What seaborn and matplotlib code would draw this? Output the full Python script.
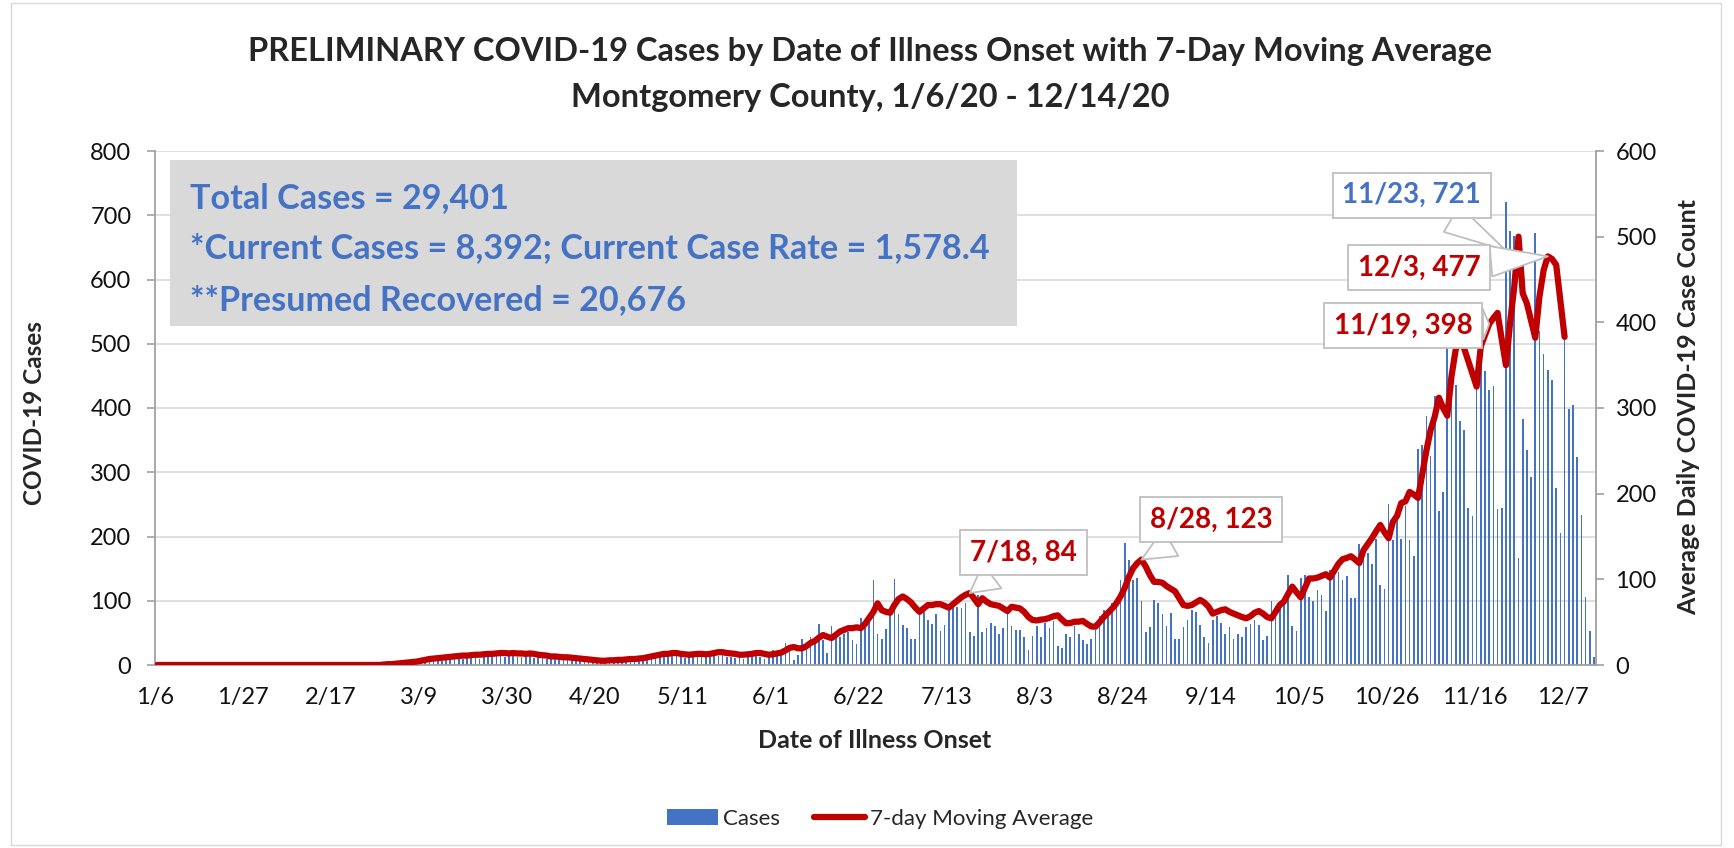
import pandas as pd
import seaborn as sns
import matplotlib.pyplot as plt
from matplotlib.patches import Rectangle, Patch
from matplotlib.lines import Line2D

# daily cases by date of illness onset, 1/6/20 - 12/14/20 (one row per week, Mon..Sun)
cases = [
    0, 0, 0, 0, 0, 0, 0,
    0, 0, 0, 0, 0, 0, 0,
    0, 0, 0, 0, 0, 0, 0,
    0, 0, 0, 0, 0, 0, 0,
    0, 0, 0, 0, 0, 0, 0,
    0, 0, 0, 0, 0, 0, 0,
    0, 0, 0, 0, 0, 0, 0,
    0, 0, 0, 0, 0, 0, 0,
    1, 2, 1, 3, 2, 4, 3,
    5, 6, 4, 8, 9, 7, 10,
    12, 19, 11, 9, 13, 14, 12,
    10, 16, 15, 13, 20, 14, 12,
    15, 16, 13, 12, 15, 14, 11,
    13, 12, 10, 9, 11, 10, 8,
    9, 10, 7, 8, 6, 7, 5,
    6, 4, 5, 6, 7, 5, 6,
    8, 7, 6, 9, 8, 10, 11,
    12, 14, 13, 15, 14, 16, 12,
    11, 13, 12, 14, 12, 13, 15,
    20, 14, 16, 13, 12, 11, 13,
    10, 14, 12, 15, 13, 9, 14,
    23, 18, 18, 35, 23, 8, 16,
    40, 34, 44, 39, 64, 39, 18,
    61, 52, 44, 49, 52, 39, 32,
    73, 62, 70, 132, 48, 41, 56,
    80, 134, 80, 63, 57, 41, 41,
    83, 83, 70, 64, 79, 53, 63,
    86, 90, 90, 88, 97, 52, 45,
    109, 52, 57, 65, 61, 49, 57,
    80, 60, 55, 55, 43, 23, 45,
    60, 43, 65, 57, 68, 30, 26,
    49, 43, 60, 49, 39, 32, 41,
    54, 76, 86, 79, 97, 90, 133,
    190, 163, 133, 135, 99, 51, 59,
    101, 96, 80, 61, 81, 40, 41,
    59, 70, 86, 83, 62, 44, 34,
    70, 76, 66, 48, 59, 41, 49,
    43, 59, 64, 70, 62, 39, 45,
    99, 92, 94, 97, 140, 60, 53,
    135, 140, 106, 100, 117, 109, 84,
    148, 138, 145, 132, 138, 105, 104,
    189, 182, 175, 157, 196, 124, 118,
    251, 195, 228, 196, 247, 194, 170,
    336, 343, 388, 326, 419, 240, 270,
    500, 478, 436, 380, 365, 244, 232,
    450, 485, 458, 428, 435, 243, 245,
    721, 675, 668, 166, 383, 335, 293,
    672, 520, 484, 459, 443, 276, 205,
    507, 399, 405, 324, 234, 106, 53,
    12,
]

# 7-day moving average (right axis), 1/6/20 - 12/7/20
moving_avg = [
    0, 0, 0, 0, 0, 0, 0,
    0, 0, 0, 0, 0, 0, 0,
    0, 0, 0, 0, 0, 0, 0,
    0, 0, 0, 0, 0, 0, 0,
    0, 0, 0, 0, 0, 0, 0,
    0, 0, 0, 0, 0, 0, 0,
    0, 0, 0, 0, 0, 0, 0,
    0, 0, 0, 0, 0, 0.5, 1,
    1, 1.5, 2, 2.5, 3, 3.5, 4,
    5, 6, 7, 7.5, 8, 8.5, 9,
    9.5, 10, 10.5, 11, 11, 11.5, 12,
    12, 12.5, 13, 13, 13.5, 14, 14,
    13.5, 14, 13.5, 13.5, 13, 13.5, 13,
    12, 11.5, 11, 10, 10, 9.5, 9,
    9, 8.5, 8, 7.5, 7, 6.5, 6,
    5.5, 5, 5, 5.5, 5.5, 6, 6,
    6.5, 7, 7, 7.5, 8, 9, 10,
    11, 12, 13, 13, 14, 14, 13,
    12.5, 12, 12.5, 13, 13, 12.5, 13,
    14, 15, 15, 14, 13.5, 13, 12,
    12, 12.5, 13, 14, 14, 13, 12,
    12.5, 13.5, 14.5, 17, 20, 21, 19.5,
    19.5, 22, 25.7, 28, 32, 35, 33,
    31.5, 35, 39, 41, 43, 43, 44,
    43, 48, 55, 62, 72, 64, 62,
    61, 70, 77, 80, 77, 73, 67,
    62, 66, 70, 70, 71, 71, 69,
    67, 71, 75, 79, 82, 84, 78,
    71, 78, 74, 71, 70, 69, 66,
    63, 68, 67, 66, 62, 56, 52.5,
    52, 53, 53.5, 55, 57, 58, 53,
    48.7, 49, 50.5, 50.6, 51.4, 48, 45,
    44.7, 50, 56, 61, 66, 72, 80,
    90, 103, 113, 119, 123, 115, 105,
    97, 97, 96, 92, 89, 86, 78,
    70, 69, 70, 73, 76, 73, 68,
    60, 62, 64, 65, 62, 60, 58,
    56, 54.5, 57, 61, 63, 60, 56,
    54.5, 62, 70, 74, 83, 91.5, 85,
    79, 90, 101, 101, 102, 104, 106,
    102, 110, 118, 123.5, 125, 127, 123,
    119, 134, 141, 148, 156, 163.5, 155,
    148, 167, 174, 189, 191, 202, 199,
    195, 222, 250, 274, 290, 312, 300,
    291, 337, 368, 380, 370, 355, 340,
    325, 372, 385, 398, 405, 411, 380,
    350, 400, 442, 500, 434, 422, 402,
    382, 430, 461, 477, 474, 467, 425,
    383,
]

tick_labels = ['1/6', '1/27', '2/17', '3/9', '3/30', '4/20', '5/11', '6/1', '6/22',
               '7/13', '8/3', '8/24', '9/14', '10/5', '10/26', '11/16', '12/7']

summary_lines = ['Total Cases = 29,401',
                 '*Current Cases = 8,392; Current Case Rate = 1,578.4',
                 '**Presumed Recovered = 20,676']

BLUE = '#4472C4'
RED = '#C00000'
GRID = '#D9D9D9'
AXIS = '#A0A0A0'
W, H = 1734, 848

sns.set_style('white')
plt.rcParams['font.family'] = ['Lato', 'DejaVu Sans']

start = pd.Timestamp('2020-01-06')
tick_pos = [(pd.Timestamp('2020/' + t) - start).days - 0.5 for t in tick_labels]

df = pd.DataFrame({'day': range(len(cases)), 'cases': cases})
ma_df = pd.DataFrame({'day': range(len(moving_avg)), 'avg': moving_avg})

fig = plt.figure(figsize=(W / 100, H / 100), dpi=100)
ax = fig.add_axes([155 / W, 1 - 665 / H, 1441 / W, 514 / H])

sns.barplot(data=df, x='day', y='cases', native_scale=True, color=BLUE, saturation=1,
            width=0.4, errorbar=None, linewidth=0, ax=ax, zorder=2)
ax.set_xlim(-0.5, len(cases) - 0.5)
ax.set_ylim(0, 800)
ax.set_yticks(range(0, 801, 100))
ax.set_xticks(tick_pos, tick_labels)
ax.grid(axis='y', color=GRID, lw=1.2)
ax.grid(axis='x', visible=False)
ax.set_axisbelow(True)
ax.set_xlabel('')
ax.set_ylabel('')

ax2 = ax.twinx()
sns.lineplot(data=ma_df, x='day', y='avg', ax=ax2, color=RED, linewidth=4.5,
             solid_joinstyle='round', solid_capstyle='round', zorder=3)
ax2.set_ylim(0, 600)
ax2.set_yticks(range(0, 601, 100))
ax2.set_xlim(-0.5, len(cases) - 0.5)
ax2.set_xlabel('')
ax2.set_ylabel('')

for s in ['top', 'right']:
    ax.spines[s].set_visible(False)
for s in ['top', 'left', 'bottom']:
    ax2.spines[s].set_visible(False)
for a, s in [(ax, 'left'), (ax, 'bottom'), (ax2, 'right')]:
    a.spines[s].set_color(AXIS)
    a.spines[s].set_linewidth(1.3)

ax.tick_params(axis='y', labelsize=17, length=6, width=1.2, color=AXIS, pad=11, labelcolor='#111111')
ax.tick_params(axis='x', labelsize=17, length=6, width=1.2, color=AXIS, pad=10, labelcolor='#111111')
ax2.tick_params(axis='y', labelsize=17, length=6, width=1.2, color=AXIS, pad=8, labelcolor='#111111')

# titles and axis titles
fig.text(870 / W, 1 - 52 / H, 'PRELIMINARY COVID-19 Cases by Date of Illness Onset with 7-Day Moving Average',
         ha='center', va='center', fontsize=23.5, fontweight='bold')
fig.text(870 / W, 1 - 98 / H, 'Montgomery County, 1/6/20 - 12/14/20',
         ha='center', va='center', fontsize=23.5, fontweight='bold')
fig.text(35 / W, 1 - 413 / H, 'COVID-19 Cases', rotation=90, ha='center', va='center',
         fontsize=17.5, fontweight='bold')
fig.text(1689 / W, 1 - 407 / H, 'Average Daily COVID-19 Case Count', rotation=90, ha='center',
         va='center', fontsize=18, fontweight='bold')
fig.text(875 / W, 1 - 741 / H, 'Date of Illness Onset', ha='center', va='center',
         fontsize=18, fontweight='bold')

# summary box
fig.add_artist(Rectangle((170 / W, 1 - 326 / H), 847 / W, 166 / H, transform=fig.transFigure,
                         fc='#D9D9D9', ec='none', zorder=3))
for line, base in zip(summary_lines, [208, 258, 310]):
    fig.text(190 / W, 1 - base / H, line, color=BLUE, fontsize=24.6, fontweight='bold',
             va='baseline', ha='left', zorder=4)

# callouts
box = dict(boxstyle='square,pad=0.35', fc='white', ec='#BFBFBF', lw=1.3)
arrow = dict(arrowstyle='wedge,tail_width=1.1,shrink_factor=0.5', fc='white', ec='#BFBFBF',
             lw=1.3, shrinkA=0, shrinkB=0)
callouts = [
    ('7/18, 84', (194, 84), (206.8, 131), RED, ax2),
    ('8/28, 123', (235, 123), (251.6, 170), RED, ax2),
    ('11/23, 721', (322, 645), (299.5, 731), BLUE, ax),
    ('12/3, 477', (332, 477), (301.3, 464), RED, ax2),
    ('11/19, 398', (318, 398), (297.5, 396), RED, ax2),
]
for text, xy, xytext, col, a in callouts:
    ax2.annotate(text, xy=xy, xytext=xytext, xycoords=a.transData, textcoords=a.transData,
                 ha='center', va='center', fontsize=20, fontweight='bold', color=col,
                 bbox=box, arrowprops=arrow, zorder=6)

# legend
handles = [Patch(facecolor=BLUE, edgecolor='none'),
           Line2D([0], [0], color=RED, lw=4.5, solid_capstyle='round')]
fig.legend(handles, ['Cases', '7-day Moving Average'], loc='center',
           bbox_to_anchor=(880 / W, 1 - 819 / H), ncol=2, frameon=False, fontsize=16,
           handlelength=2.3, handletextpad=0.25, columnspacing=1.5)

# chart area border
fig.add_artist(Rectangle((11 / W, 3 / H), 1710 / W, 842 / H, transform=fig.transFigure,
                         fill=False, ec='#D9D9D9', lw=1))

fig.savefig('out.png', dpi=100)
